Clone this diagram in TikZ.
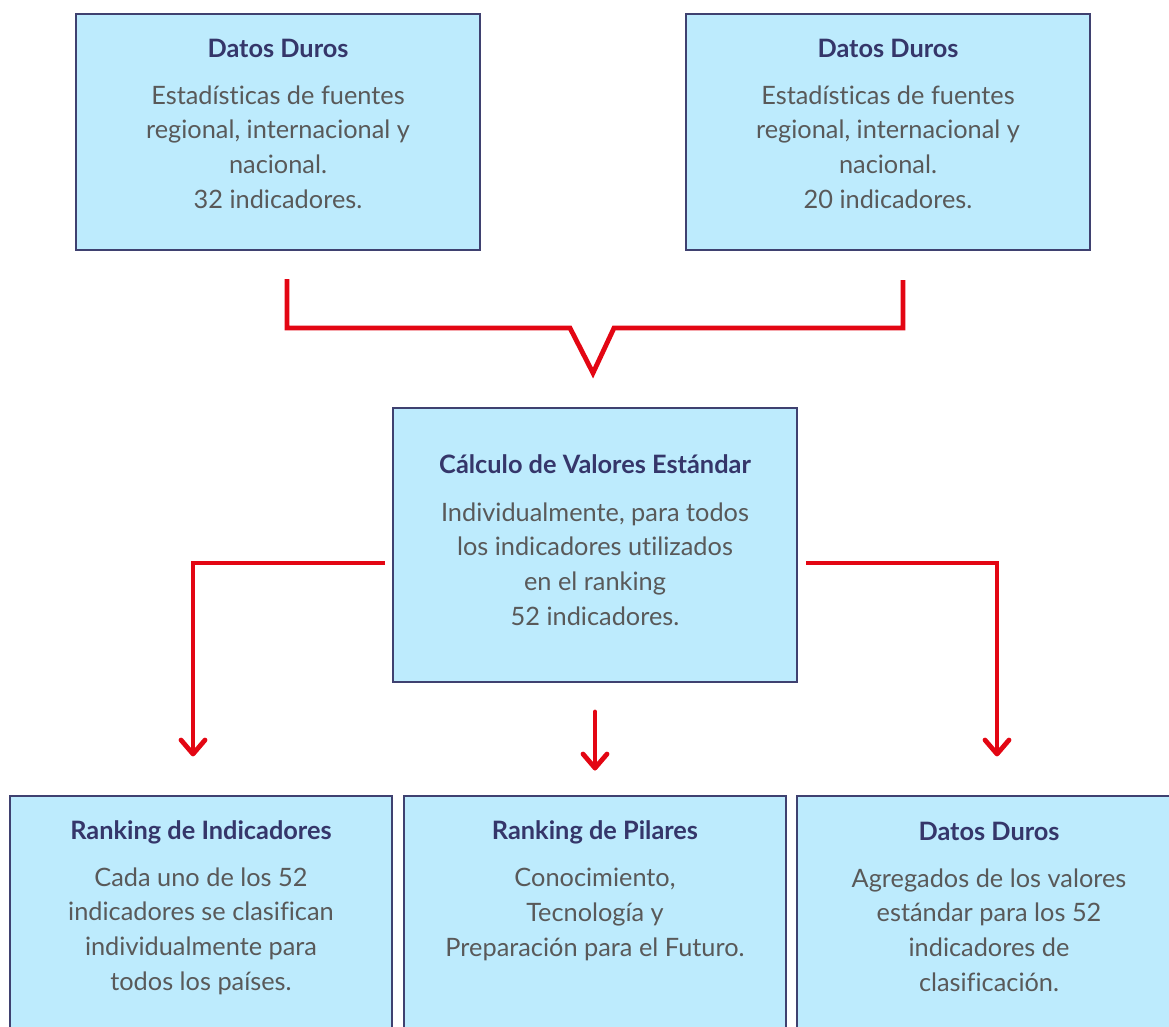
\documentclass[tikz,border=0pt]{standalone}
\usepackage{fontspec}
\setmainfont{Lato}[Ligatures=CommonOff]
\usetikzlibrary{fit,calc}
\definecolor{boxfill}{HTML}{BDEBFD}
\definecolor{boxline}{HTML}{3F4170}
\definecolor{titlec}{HTML}{35366A}
\definecolor{bodyc}{HTML}{595959}
\definecolor{redc}{HTML}{E30613}
\begin{document}
\begin{tikzpicture}[x=0.75pt,y=-0.75pt,
  box/.style={draw=boxline, fill=boxfill, line width=1.5pt, inner sep=0pt, rectangle},
  ttl/.style={font=\fontsize{19}{22}\selectfont\bfseries, text=titlec, inner sep=0pt, anchor=base},
  bdy/.style={font=\fontsize{19}{25.9}\selectfont, text=bodyc, align=center, inner sep=0pt, anchor=base},
  conn/.style={draw=redc, line width=3.6pt, line join=miter},
  chev/.style={draw=redc, line width=3.6pt, line cap=round, line join=round}
  ]
\path[use as bounding box] (0,0) rectangle (1169,1026);
\clip (0,0) rectangle (1169,1026);

% top boxes
\node[box, fit={(76,14) (480,250)}] (b1) {};
\node[box, fit={(686,14) (1090,250)}] (b2) {};
\node[ttl] (b1t) at ($(b1.north)+(0,44)$) {Datos Duros};
\node[bdy] (b1b) at ($(b1.north)+(0,195)$) {Estadísticas de fuentes\\regional, internacional y\\nacional.\\32 indicadores.};
\node[ttl] (b2t) at ($(b2.north)+(0,44)$) {Datos Duros};
\node[bdy] (b2b) at ($(b2.north)+(0,195)$) {Estadísticas de fuentes\\regional, internacional y\\nacional.\\20 indicadores.};

% middle box
\node[box, fit={(393,408) (797,682)}] (m) {};
\node[ttl] (mt) at ($(m.north)+(0,66)$) {Cálculo de Valores Estándar};
\node[bdy] (mb) at ($(m.north)+(0,218)$) {Individualmente, para todos\\los indicadores utilizados\\en el ranking\\52 indicadores.};

% bottom boxes
\node[box, fit={(10,796) (392,1045)}] (c1) {};
\node[box, fit={(404,796) (786,1045)}] (c2) {};
\node[box, fit={(797,796) (1180,1045)}] (c3) {};
\node[ttl] (c1t) at ($(c1.north)+(0,44)$) {Ranking de Indicadores};
\node[bdy] (c1b) at ($(c1.north)+(0,195)$) {Cada uno de los 52\\indicadores se clasifican\\individualmente para\\todos los países.};
\node[ttl] (c2t) at ($(c2.north)+(0,44)$) {Ranking de Pilares};
\node[bdy] (c2b) at ($(c2.north)+(0,161)$) {Conocimiento,\\Tecnología y\\Preparación para el Futuro.};
\node[ttl] (c3t) at (989,840) {Datos Duros};
\node[bdy] (c3b) at (989,991) {Agregados de los valores\\estándar para los 52\\indicadores de\\clasificación.};

% connector coordinates
\coordinate (v1) at (287,279);
\coordinate (v2) at (903,280);
\coordinate (vtip) at (593,373);
\coordinate (l0) at (385,563);
\coordinate (l1) at (193,754);
\coordinate (r0) at (806,563);
\coordinate (r1) at (997,754);
\coordinate (d0) at (595,712);
\coordinate (d1) at (595,768);

% V connector
\draw[conn] (v1) -- (287,328) -- (570,328) -- (vtip) -- (614,328) -- (903,328) -- (v2);

% arrows
\draw[conn] (l0) -| (l1);
\draw[conn] (r0) -| (r1);
\draw[conn, line cap=round] (d0) -- (d1);
\foreach \t in {l1,r1,d1}
  \draw[chev] ($(\t)+(-12,-14)$) -- (\t) -- ($(\t)+(12,-14)$);
\end{tikzpicture}
\end{document}
